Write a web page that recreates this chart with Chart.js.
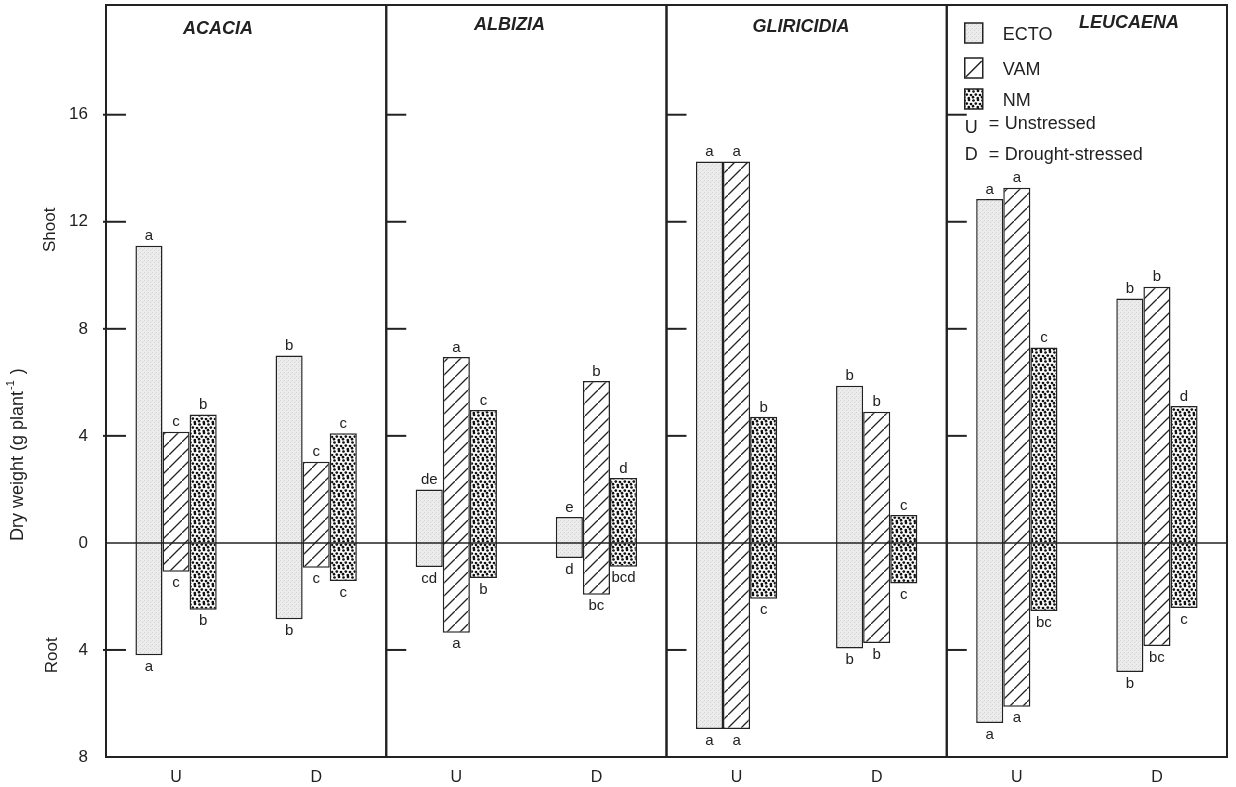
<!DOCTYPE html>
<html lang="en">
<head>
    <meta charset="UTF-8">
    <title>Dry weight of shoot and root</title>
    <script src="https://cdn.jsdelivr.net/npm/chart.js"></script>
    <style>
        html, body { margin: 0; padding: 0; background: #fff; }
        .chart-box { width: 1236px; height: 787px; }
    </style>
</head>
<body>
    <div class="chart-box">
        <canvas id="dryChart" width="1236" height="787"></canvas>
    </div>

    <script>
        // Data (g plant-1); roots are stored as positive values
        const categories = ['U', 'D', 'U', 'D', 'U', 'D', 'U', 'D'];
        const panelNames = ['ACACIA', 'ALBIZIA', 'GLIRICIDIA', 'LEUCAENA'];
        const seriesNames = ['ECTO', 'VAM', 'NM'];

        const ectoShoot = [11.1, 7.0, 2.0, 0.97, 14.25, 5.87, 12.85, 9.13];
        const ectoRoot  = [4.2, 2.85, 0.9, 0.56, 6.95, 3.95, 6.73, 4.82];
        const vamShoot  = [4.15, 3.03, 6.95, 6.05, 14.25, 4.9, 13.27, 9.57];
        const vamRoot   = [1.08, 0.93, 3.36, 1.94, 6.95, 3.74, 6.12, 3.85];
        const nmShoot   = [4.8, 4.1, 4.97, 2.43, 4.71, 1.04, 7.3, 5.12];
        const nmRoot    = [2.5, 1.42, 1.31, 0.89, 2.09, 1.52, 2.54, 2.43];

        const ectoShootLetters = ['a', 'b', 'de', 'e', 'a', 'b', 'a', 'b'];
        const ectoRootLetters  = ['a', 'b', 'cd', 'd', 'a', 'b', 'a', 'b'];
        const vamShootLetters  = ['c', 'c', 'a', 'b', 'a', 'b', 'a', 'b'];
        const vamRootLetters   = ['c', 'c', 'a', 'bc', 'a', 'b', 'a', 'bc'];
        const nmShootLetters   = ['b', 'c', 'c', 'd', 'b', 'c', 'c', 'd'];
        const nmRootLetters    = ['b', 'c', 'b', 'bcd', 'c', 'c', 'bc', 'c'];

        const yTicks = [-8, -4, 0, 4, 8, 12, 16];
        const yMin = -8;
        const yMax = 20.1;

        // Layout / styling
        const FONT = '"Liberation Sans", Arial, Helvetica, sans-serif';
        const INK = '#222';
        const titlePos = [0.40, 0.44, 0.48, 0.65];   // fraction of panel width
        const titleY = [29, 25, 27, 23];

        // Fill patterns
        function makeTile(w, h, draw) {
            const c = document.createElement('canvas');
            c.width = w; c.height = h;
            const g = c.getContext('2d');
            draw(g, w, h);
            return g.createPattern(c, 'repeat');
        }

        const ectoFill = makeTile(4, 4, function (g, w, h) {
            g.fillStyle = '#ececec';
            g.fillRect(0, 0, w, h);
            g.fillStyle = '#d4d4d4';
            g.fillRect(0, 0, 1, 1);
            g.fillRect(2, 2, 1, 1);
            g.fillStyle = '#e0e0e0';
            g.fillRect(3, 1, 1, 1);
        });

        const vamFill = makeTile(13, 13, function (g, w, h) {
            g.fillStyle = '#fff';
            g.fillRect(0, 0, w, h);
            g.strokeStyle = INK;
            g.lineWidth = 1.3;
            g.beginPath();
            g.moveTo(-1, h + 1); g.lineTo(w + 1, -1);
            g.moveTo(-2, 1); g.lineTo(1, -2);
            g.moveTo(w - 1, h + 2); g.lineTo(w + 2, h - 1);
            g.stroke();
        });

        const nmFill = makeTile(9, 9, function (g, w, h) {
            g.fillStyle = '#fff';
            g.fillRect(0, 0, w, h);
            g.fillStyle = '#111';
            const dots = [[1.5, 1.5], [6, 1], [3.8, 4.6], [8, 5], [1, 7.2], [5.8, 8]];
            dots.forEach(function (d) {
                for (let dx = -w; dx <= w; dx += w) {
                    for (let dy = -h; dy <= h; dy += h) {
                        g.beginPath();
                        g.arc(d[0] + dx, d[1] + dy, 1.35, 0, Math.PI * 2);
                        g.fill();
                    }
                }
            });
        });

        const fills = [ectoFill, vamFill, nmFill];
        const shootLetters = [ectoShootLetters, vamShootLetters, nmShootLetters];
        const rootLetters = [ectoRootLetters, vamRootLetters, nmRootLetters];

        function floating(shoot, root) {
            return shoot.map(function (s, i) { return [-root[i], s]; });
        }

        // Panel frames, zero line, inner tick stubs, titles, letters, legend, axis titles
        const decorPlugin = {
            id: 'decor',
            afterDatasetsDraw(chart) {
                const ctx = chart.ctx;
                const area = chart.chartArea;
                const x = chart.scales.x;
                const y = chart.scales.y;
                const catW = (x.right - x.left) / categories.length;

                ctx.save();
                ctx.strokeStyle = INK;

                // zero line
                const y0 = y.getPixelForValue(0);
                ctx.lineWidth = 1.5;
                ctx.beginPath();
                ctx.moveTo(area.left, y0);
                ctx.lineTo(area.right, y0);
                ctx.stroke();

                // panel frames and tick stubs
                ctx.lineWidth = 2;
                for (let p = 0; p < panelNames.length; p++) {
                    const left = x.getPixelForValue(p * 2) - catW / 2;
                    const right = left + catW * 2;
                    ctx.strokeRect(left, area.top, right - left, area.bottom - area.top);
                    yTicks.forEach(function (v) {
                        if (v === 0 || v === yMin) return;
                        const py = y.getPixelForValue(v);
                        ctx.beginPath();
                        ctx.moveTo(left - (p === 0 ? 3 : 0), py);
                        ctx.lineTo(left + 20, py);
                        ctx.stroke();
                    });

                    // panel title
                    ctx.fillStyle = INK;
                    ctx.font = 'italic bold 18px ' + FONT;
                    ctx.textAlign = 'center';
                    ctx.textBaseline = 'middle';
                    ctx.fillText(panelNames[p], left + (right - left) * titlePos[p], titleY[p]);
                }

                // significance letters
                ctx.font = '15px ' + FONT;
                ctx.fillStyle = INK;
                ctx.textAlign = 'center';
                for (let d = 0; d < 3; d++) {
                    const meta = chart.getDatasetMeta(d);
                    meta.data.forEach(function (bar, i) {
                        const top = Math.min(bar.y, bar.base);
                        const bottom = Math.max(bar.y, bar.base);
                        ctx.textBaseline = 'bottom';
                        ctx.fillText(shootLetters[d][i], bar.x, top - 2);
                        ctx.textBaseline = 'top';
                        ctx.fillText(rootLetters[d][i], bar.x, bottom + 4);
                    });
                }

                // legend inside the last panel
                const lx = x.getPixelForValue(6) - catW / 2 + 18;
                const boxes = [23, 58, 89];
                ctx.font = '18px ' + FONT;
                ctx.textAlign = 'left';
                ctx.textBaseline = 'middle';
                for (let d = 0; d < 3; d++) {
                    const by = boxes[d];
                    ctx.fillStyle = d === 1 ? '#fff' : fills[d];
                    ctx.fillRect(lx, by, 18, 20);
                    ctx.lineWidth = 1.5;
                    ctx.strokeRect(lx, by, 18, 20);
                    if (d === 1) {
                        ctx.beginPath();
                        ctx.moveTo(lx + 1, by + 19);
                        ctx.lineTo(lx + 17, by + 3);
                        ctx.stroke();
                    }
                    ctx.fillStyle = INK;
                    ctx.fillText(seriesNames[d], lx + 38, by + 12);
                }
                ctx.fillText('U', lx, 128);
                ctx.fillText('=', lx + 24, 124);
                ctx.fillText('Unstressed', lx + 40, 124);
                ctx.fillText('D', lx, 155);
                ctx.fillText('=', lx + 24, 155);
                ctx.fillText('Drought-stressed', lx + 40, 155);

                // axis titles
                ctx.font = '17px ' + FONT;
                ctx.textAlign = 'center';
                ctx.textBaseline = 'middle';
                ctx.save();
                ctx.translate(50, y.getPixelForValue(11.7));
                ctx.rotate(-Math.PI / 2);
                ctx.fillText('Shoot', 0, 0);
                ctx.restore();

                ctx.save();
                ctx.translate(52, y.getPixelForValue(-4.2));
                ctx.rotate(-Math.PI / 2);
                ctx.fillText('Root', 0, 0);
                ctx.restore();

                ctx.save();
                ctx.translate(18, y.getPixelForValue(3.3));
                ctx.rotate(-Math.PI / 2);
                const main = 'Dry weight (g plant';
                const sup = '-1';
                const tail = ' )';
                ctx.font = '18px ' + FONT;
                const wMain = ctx.measureText(main).width;
                const wTail = ctx.measureText(tail).width;
                ctx.font = '11px ' + FONT;
                const wSup = ctx.measureText(sup).width + 2;
                let sx = -(wMain + wSup + wTail) / 2;
                ctx.textAlign = 'left';
                ctx.font = '18px ' + FONT;
                ctx.fillText(main, sx, 0);
                sx += wMain;
                ctx.font = '11px ' + FONT;
                ctx.fillText(sup, sx + 1, -7);
                sx += wSup;
                ctx.font = '18px ' + FONT;
                ctx.fillText(tail, sx, 0);
                ctx.restore();

                ctx.restore();
            }
        };

        const ctx = document.getElementById('dryChart').getContext('2d');
        const dryChart = new Chart(ctx, {
            type: 'bar',
            data: {
                labels: categories,
                datasets: [
                    { label: 'ECTO', data: floating(ectoShoot, ectoRoot), backgroundColor: ectoFill },
                    { label: 'VAM', data: floating(vamShoot, vamRoot), backgroundColor: vamFill },
                    { label: 'NM', data: floating(nmShoot, nmRoot), backgroundColor: nmFill }
                ]
            },
            options: {
                responsive: false,
                animation: false,
                devicePixelRatio: 1,
                layout: { padding: { top: 5, right: 9, left: 0, bottom: 0 } },
                datasets: {
                    bar: {
                        borderColor: INK,
                        borderWidth: 1.5,
                        borderSkipped: false,
                        categoryPercentage: 0.58,
                        barPercentage: 1.0
                    }
                },
                plugins: {
                    legend: { display: false },
                    tooltip: { enabled: false }
                },
                scales: {
                    x: {
                        grid: { display: false, drawTicks: false },
                        border: { display: false },
                        ticks: {
                            color: INK,
                            font: { family: FONT, size: 16 },
                            padding: 11
                        },
                        afterFit: function (scale) {
                            scale.height = 30;
                            scale.paddingLeft = 0;
                            scale.paddingRight = 0;
                        }
                    },
                    y: {
                        min: yMin,
                        max: yMax,
                        grid: { display: false, drawTicks: false },
                        border: { display: false },
                        afterBuildTicks: function (scale) {
                            scale.ticks = yTicks.map(function (v) { return { value: v }; });
                        },
                        ticks: {
                            color: INK,
                            font: { family: FONT, size: 17 },
                            padding: 18,
                            callback: function (v) { return String(Math.abs(v)); }
                        },
                        afterFit: function (scale) {
                            scale.width = 106;
                            scale.paddingTop = 0;
                            scale.paddingBottom = 0;
                        }
                    }
                }
            },
            plugins: [decorPlugin]
        });
    </script>
</body>
</html>
